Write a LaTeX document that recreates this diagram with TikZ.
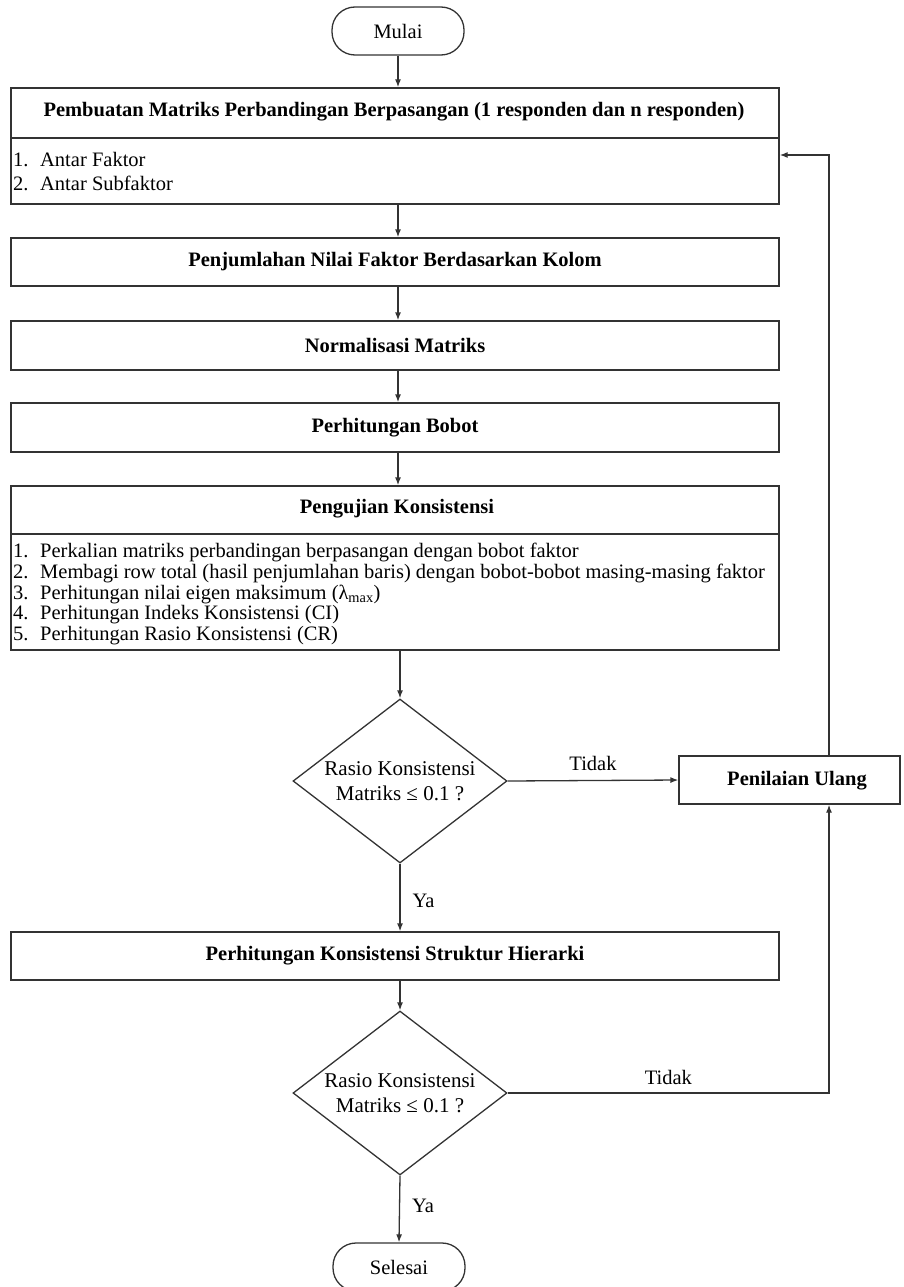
\documentclass[tikz,border=0pt]{standalone}
\usepackage{fontspec}
\setmainfont{Liberation Serif}
\usetikzlibrary{shapes.geometric,arrows.meta}
\begin{document}
\begin{tikzpicture}[x=1pt,y=-1pt,
  every node/.style={font=\fontsize{20.5}{21}\selectfont, inner sep=0pt},
  lw/.style={line width=1.3pt, draw=black!80},
  box/.style={lw, draw, rectangle, minimum width=768, minimum height=48},
  hd/.style={font=\bfseries\fontsize{20.5}{21}\selectfont},
  dtext/.style={align=center, font=\fontsize{21}{25}\selectfont},
  item/.style={anchor=west},
  term/.style={lw, draw, rectangle, rounded corners=23pt, minimum width=132, minimum height=48},
  dia/.style={lw, draw, diamond, minimum width=214, minimum height=164},
  arr/.style={lw, -{Latex[length=8pt,width=6pt]}},
  conn/.style={lw}
]
\useasboundingbox (0,0) rectangle (904,1287);

% start
\node[term] (mulai) at (398,31) {Mulai};

% box 1
\node[box, minimum height=116] (b1) at (395,146) {};
\node[hd] (b1h) at (394,112) {Pembuatan Matriks Perbandingan Berpasangan (1 responden dan n responden)};
\draw[conn] (b1.west |- 0,138) -- (b1.east |- 0,138);
\node[item] (b1i1) at (13,160) {\makebox[27pt][l]{1.}Antar Faktor};
\node[item] (b1i2) at (13,183) {\makebox[27pt][l]{2.}Antar Subfaktor};

% box 2-4
\node[box] (b2) at (395,262) {};
\node[hd] (b2t) at (b2) {Penjumlahan Nilai Faktor Berdasarkan Kolom};
\node[box, minimum height=49] (b3) at (395,345.5) {};
\node[hd] (b3t) at (b3) {Normalisasi Matriks};
\node[box, minimum height=49] (b4) at (395,427.5) {};
\node[hd] (b4t) at (b4) {Perhitungan Bobot};

% box 5
\node[box, minimum height=164] (b5) at (395,568) {};
\node[hd] (b5h) at (397,509) {Pengujian Konsistensi};
\draw[conn] (b5.west |- 0,534) -- (b5.east |- 0,534);
\node[item] (b5i1) at (13,552) {\makebox[27pt][l]{1.}Perkalian matriks perbandingan berpasangan dengan bobot faktor};
\node[item] (b5i2) at (13,573) {\makebox[27pt][l]{2.}Membagi row total (hasil penjumlahan baris) dengan bobot-bobot masing-masing faktor};
\node[item] (b5i3) at (13,594) {\makebox[27pt][l]{3.}Perhitungan nilai eigen maksimum (λ\textsubscript{max})};
\node[item] (b5i4) at (13,615) {\makebox[27pt][l]{4.}Perhitungan Indeks Konsistensi (CI)};
\node[item] (b5i5) at (13,636) {\makebox[27pt][l]{5.}Perhitungan Rasio Konsistensi (CR)};

% decision 1
\node[dia] (d1) at (400,781) {};
\node[dtext] (d1t) at (d1) {Rasio Konsistensi\\Matriks ≤ 0.1 ?};

% reassessment
\node[lw, draw, rectangle, minimum width=221, minimum height=48] (pen) at (789.5,780) {};
\node[hd] (pent) at (797,781) {Penilaian Ulang};
\coordinate (fb) at (829,155);

% box 6
\node[box] (b6) at (395,956) {};
\node[hd] (b6t) at (b6) {Perhitungan Konsistensi Struktur Hierarki};

% decision 2
\node[dia] (d2) at (400,1093) {};
\node[dtext] (d2t) at (d2) {Rasio Konsistensi\\Matriks ≤ 0.1 ?};

% end
\node[term] (sel) at (399,1267) {Selesai};

% connectors
\draw[arr] (mulai.south) -- (mulai.south |- b1.north);
\draw[arr] (b1.south -| mulai) -- (b2.north -| mulai);
\draw[arr] (b2.south -| mulai) -- (b3.north -| mulai);
\draw[arr] (b3.south -| mulai) -- (b4.north -| mulai);
\draw[arr] (b4.south -| mulai) -- (b5.north -| mulai);
\draw[arr] (b5.south -| d1) -- (d1.north);
\draw[arr] (d1.east) -- node[above=9pt] (t1) {Tidak} (pen.west);
\draw[arr] (pen.north -| fb) -- (fb) -- (b1.east |- fb);
\draw[arr] (d1.south) -- node[right=12pt, pos=0.55] (y1) {Ya} (b6.north -| d1);
\draw[arr] (b6.south -| d2) -- (d2.north);
\draw[arr] (d2.east) -- node[above=8pt] (t2) {Tidak} (d2.east -| fb) -- (pen.south -| fb);
\draw[arr] (d2.south) -- node[right=12pt, pos=0.45] (y2) {Ya} (sel.north);
\end{tikzpicture}
\end{document}
